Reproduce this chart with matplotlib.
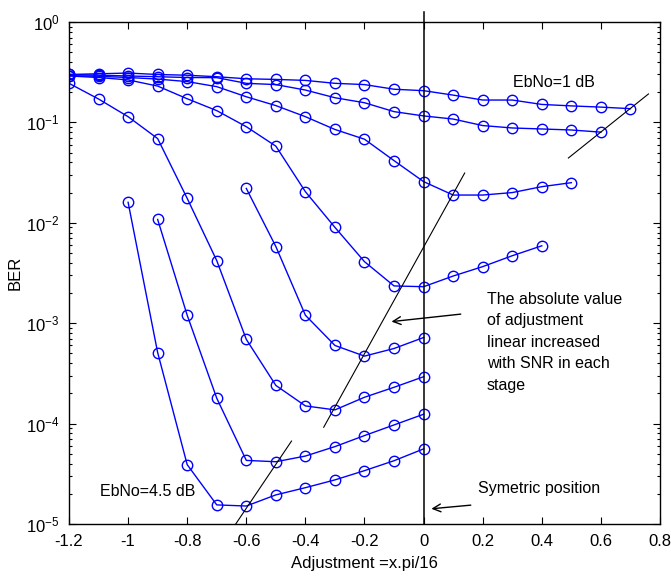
import matplotlib
matplotlib.use("Agg")
import matplotlib.pyplot as plt
import numpy as np

plt.rcParams['font.family'] = ['Liberation Sans', 'DejaVu Sans']
plt.rcParams['axes.unicode_minus'] = False
plt.rcParams['mathtext.fontset'] = 'custom'
plt.rcParams['mathtext.rm'] = 'Liberation Sans'

# ---- data ----
x_all = [-1.2, -1.1, -1.0, -0.9, -0.8, -0.7, -0.6, -0.5, -0.4, -0.3, -0.2,
         -0.1, 0.0, 0.1, 0.2, 0.3, 0.4, 0.5, 0.6, 0.7]

ber_1 = [0.30, 0.305, 0.31, 0.30, 0.295, 0.285, 0.272, 0.268, 0.262, 0.245, 0.238,
         0.214, 0.207, 0.187, 0.167, 0.167, 0.151, 0.146, 0.142, 0.137]
ber_2 = [0.30, 0.295, 0.29, 0.285, 0.28, 0.279, 0.245, 0.238, 0.21, 0.176, 0.157,
         0.128, 0.116, 0.108, 0.093, 0.088, 0.086, 0.084, 0.080]
ber_3 = [0.292, 0.288, 0.28, 0.27, 0.255, 0.227, 0.18, 0.147, 0.114, 0.085, 0.068,
         0.0416, 0.0257, 0.0189, 0.0189, 0.020, 0.0229, 0.0251]
ber_4 = [0.29, 0.28, 0.265, 0.23, 0.172, 0.131, 0.0906, 0.058, 0.0204, 0.009, 0.0041,
         0.00235, 0.00231, 0.00295, 0.00366, 0.0047, 0.0059]
ber_5 = [0.245, 0.171, 0.114, 0.069, 0.0175, 0.0042, 6.9e-4, 2.4e-4, 1.5e-4, 1.37e-4,
         1.83e-4, 2.3e-4, 2.93e-4]
x_6 = [-0.6, -0.5, -0.4, -0.3, -0.2, -0.1, 0.0]
ber_6 = [0.022, 5.8e-3, 1.2e-3, 6.0e-4, 4.7e-4, 5.6e-4, 7.2e-4]
x_7 = [-0.9, -0.8, -0.7, -0.6, -0.5, -0.4, -0.3, -0.2, -0.1, 0.0]
ber_7 = [0.0108, 1.2e-3, 1.79e-4, 4.3e-5, 4.17e-5, 4.75e-5, 5.9e-5, 7.6e-5, 9.7e-5, 1.24e-4]
x_8 = [-1.0, -0.9, -0.8, -0.7, -0.6, -0.5, -0.4, -0.3, -0.2, -0.1, 0.0]
ber_8 = [0.016, 5.1e-4, 3.9e-5, 1.55e-5, 1.51e-5, 1.95e-5, 2.3e-5, 2.75e-5, 3.4e-5,
         4.27e-5, 5.6e-5]

# guide lines drawn by hand on the original figure
guide_top_x = [0.49, 0.761]
guide_top_y = [0.0442, 0.192]
guide_mid_x = [-0.338, 0.139]
guide_mid_y = [9.2e-5, 0.0313]
guide_low_x = [-0.643, -0.447]
guide_low_y = [9.3e-6, 6.7e-5]
sym_x = [0.0, 0.0]
sym_y = [1.26, 1e-5]

note_text = ("The absolute value\nof adjustment\nlinear increased\n"
             "with SNR in each\nstage")
x_ticks = [-1.2, -1, -0.8, -0.6, -0.4, -0.2, 0, 0.2, 0.4, 0.6, 0.8]
x_ticklabels = ['-1.2', '-1', '-0.8', '-0.6', '-0.4', '-0.2', '0', '0.2', '0.4', '0.6', '0.8']

# ---- figure ----
fig = plt.figure(figsize=(6.71, 5.77), dpi=100)
ax = fig.add_axes([69 / 671, 1 - 524 / 577, 591 / 671, 502 / 577])

series = [
    (x_all[:len(ber_1)], ber_1),
    (x_all[:len(ber_2)], ber_2),
    (x_all[:len(ber_3)], ber_3),
    (x_all[:len(ber_4)], ber_4),
    (x_all[:len(ber_5)], ber_5),
    (x_6, ber_6),
    (x_7, ber_7),
    (x_8, ber_8),
]
blue = '#0000FF'
for xs, ys in series:
    ax.plot(xs, ys, '-', color=blue, lw=1.0, marker='o', ms=7.5,
            mfc='none', mec=blue, mew=1.0)

ax.set_yscale('log')
ax.set_xlim(-1.2, 0.8)
ax.set_ylim(1e-5, 1)

k = 'black'
ax.plot(guide_top_x, guide_top_y, color=k, lw=0.8)
ax.plot(guide_mid_x, guide_mid_y, color=k, lw=0.8)
ax.plot(guide_low_x, guide_low_y, color=k, lw=0.8, clip_on=True)
ax.plot(sym_x, sym_y, color=k, lw=1.1, clip_on=False)

ax.annotate('', xy=(-0.118, 1.03e-3), xytext=(0.135, 1.24e-3),
            arrowprops=dict(arrowstyle='->', color=k, lw=1.0,
                            mutation_scale=14))
ax.annotate('', xy=(0.017, 1.41e-5), xytext=(0.169, 1.55e-5),
            arrowprops=dict(arrowstyle='->', color=k, lw=1.0,
                            mutation_scale=14))

fs = 12
fa = 11.5
ax.text(0.213, 10 ** -3.19, note_text, fontsize=fa, ha='left', va='center',
        linespacing=1.55)
ax.text(0.301, 0.252, 'EbNo=1 dB', fontsize=fa, ha='left', va='center')
ax.text(-1.096, 2.09e-5, 'EbNo=4.5 dB', fontsize=fa, ha='left', va='center')
ax.text(0.183, 2.24e-5, 'Symetric position', fontsize=fa, ha='left', va='center')

ax.set_xticks(x_ticks)
ax.set_xticklabels(x_ticklabels)
ax.set_xlabel('Adjustment =x.pi/16', fontsize=fs, labelpad=5)
ax.set_ylabel('BER', fontsize=fs, labelpad=2)

ax.tick_params(which='both', direction='in', top=True, right=True,
               labelsize=fs, width=0.8)
ax.tick_params(which='major', length=5, pad=7)
ax.tick_params(which='minor', length=2.5)
ax.xaxis.set_minor_locator(matplotlib.ticker.NullLocator())
for s in ax.spines.values():
    s.set_linewidth(1.0)

fig.savefig('out.png', dpi=100)
